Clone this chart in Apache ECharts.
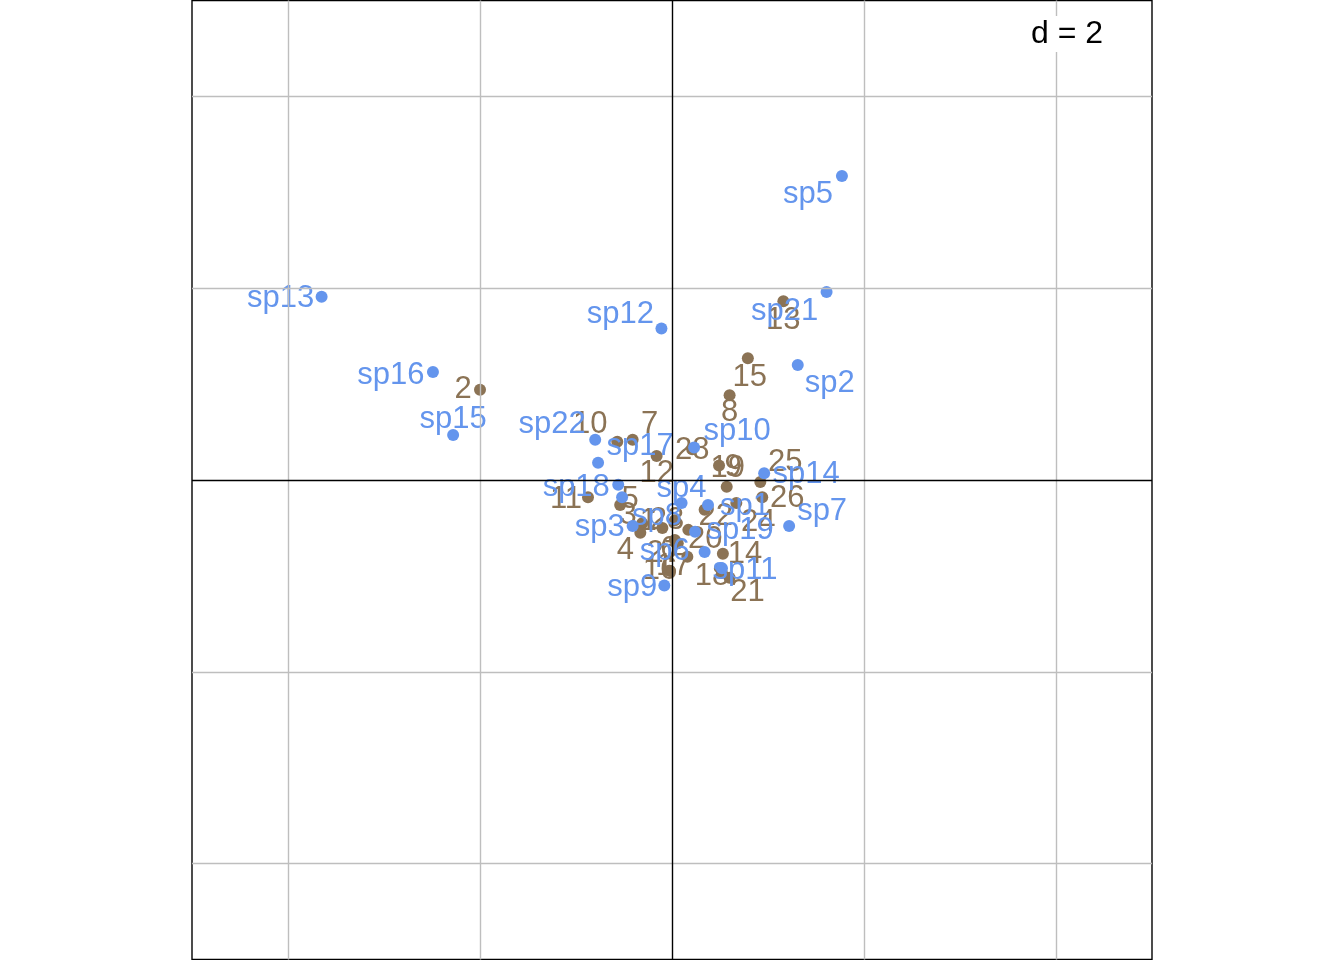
<!DOCTYPE html>
<html>
<head>
<meta charset="utf-8">
<script src="https://cdn.jsdelivr.net/npm/echarts@6/dist/echarts.min.js"></script>
<style>
  html, body { margin: 0; padding: 0; background: #fff; }
  #chart { width: 1344px; height: 960px; }
</style>
</head>
<body>
<div id="chart"></div>
<script>
// sites (rows)
const siteNames = ['1', '2', '3', '4', '5', '6', '7', '8', '9', '10', '11', '12', '13', '14',
  '15', '16', '17', '18', '19', '20', '21', '22', '23', '24', '25', '26', '27', '28'];
const siteX = [-0.10, -2.00, -0.31, -0.33, -0.54, 0.03, -0.41, 0.60, 0.49, -0.57, -0.875, -0.16, 1.16, 0.53,
  0.79, -0.02, 0.16, 0.52, 0.57, 0.17, 0.60, 0.34, 0.03, 0.67, 0.92, 0.94, 0.06, 0.21];
const siteY = [-0.50, 0.94, -0.45, -0.55, -0.26, -0.625, 0.42, 0.885, 0.15, 0.40, -0.18, 0.25, 1.865, -0.77,
  1.27, -0.95, -0.80, -0.97, -0.07, -0.52, -1.02, -0.31, -0.42, -0.24, -0.02, -0.18, -0.66, 0.32];

// species (columns)
const spNames = ['sp1', 'sp2', 'sp3', 'sp4', 'sp5', 'sp6', 'sp7', 'sp8', 'sp9', 'sp10', 'sp11',
  'sp12', 'sp13', 'sp14', 'sp15', 'sp16', 'sp17', 'sp18', 'sp19', 'sp21', 'sp22'];
const spX = [0.375, 1.31, -0.41, 0.10, 1.77, 0.34, 1.22, -0.52, -0.08, 0.23, 0.52,
  -0.11, -3.65, 0.96, -2.28, -2.49, -0.77, -0.56, 0.24, 1.61, -0.80];
const spY = [-0.26, 1.20, -0.48, -0.24, 3.17, -0.75, -0.48, -0.18, -1.10, 0.34, -0.92,
  1.58, 1.91, 0.07, 0.47, 1.125, 0.18, -0.05, -0.54, 1.96, 0.42];

// grid lines, d = 2
const gridTicks = [-4, -2, 2, 4];

// label offsets in pixels (style only)
const siteLabelOffset = [[-14, -6], [-17, 0], [-14, -8], [-15, 18], [10, -5], [-6, 10], [17, -15], [0, 17],
  [14, 2], [-27, -17], [-22, 2], [0, 17], [0, 19], [22, 1], [2, 19], [-10, -1], [-14, 10], [-10, 3],
  [1, -18], [17, 10], [18, 15], [11, 7], [-8, 0], [22, 19], [25, -19], [25, 1], [-14, 10], [0, 1]];
const spLabelOffset = [[37, 2], [32, 19], [-33, 1], [0, -15], [-34, 18], [-40, 0], [33, -15], [35, 19],
  [-32, 2], [43, -16], [23, 2], [-41, -14], [-41, 2], [42, 1], [0, -15], [-42, 3], [42, -16],
  [-42, 3], [45, -1], [-42, 19], [-43, -15]];

const brown = '#8B7355';
const blue = '#6495ED';

let myChart = echarts.init(document.getElementById('chart'));

let siteData = siteNames.map((n, i) => ({
  name: n,
  value: [siteX[i], siteY[i]],
  label: { offset: siteLabelOffset[i] }
}));
let spData = spNames.map((n, i) => ({
  name: n,
  value: [spX[i], spY[i]],
  label: { offset: spLabelOffset[i] }
}));

let lineData = [];
gridTicks.forEach(t => {
  lineData.push({ xAxis: t, lineStyle: { color: '#BEBEBE', width: 1.4 } });
  lineData.push({ yAxis: t, lineStyle: { color: '#BEBEBE', width: 1.4 } });
});
lineData.push({ xAxis: 0, lineStyle: { color: '#000', width: 1.4 } });
lineData.push({ yAxis: 0, lineStyle: { color: '#000', width: 1.4 } });

let options = {
  animation: false,
  backgroundColor: '#fff',
  grid: {
    left: 192, top: 0.5, width: 960, height: 959,
    show: true, borderColor: '#000', borderWidth: 1.4, backgroundColor: 'transparent'
  },
  xAxis: {
    type: 'value', min: -5, max: 5,
    axisLine: { show: false }, axisTick: { show: false },
    axisLabel: { show: false }, splitLine: { show: false }
  },
  yAxis: {
    type: 'value', min: -5, max: 5,
    axisLine: { show: false }, axisTick: { show: false },
    axisLabel: { show: false }, splitLine: { show: false }
  },
  series: [
    {
      // grid lines
      type: 'line',
      data: [],
      z: 1,
      silent: true,
      markLine: {
        silent: true,
        symbol: 'none',
        label: { show: false },
        lineStyle: { type: 'solid' },
        data: lineData
      }
    },
    {
      name: 'sites',
      type: 'scatter',
      data: siteData,
      z: 3,
      symbolSize: 12,
      itemStyle: { color: brown, opacity: 1 },
      label: {
        show: true,
        position: 'inside',
        formatter: '{b}',
        color: brown,
        fontSize: 31,
        fontFamily: 'Liberation Sans',
        align: 'center',
        verticalAlign: 'middle'
      }
    },
    {
      name: 'species',
      type: 'scatter',
      data: spData,
      z: 4,
      symbolSize: 12,
      itemStyle: { color: blue, opacity: 1 },
      label: {
        show: true,
        position: 'inside',
        formatter: '{b}',
        color: blue,
        fontSize: 31,
        fontFamily: 'Liberation Sans',
        align: 'center',
        verticalAlign: 'middle'
      }
    }
  ],
  graphic: [
    {
      type: 'text',
      left: 1028,
      top: 16,
      z: 10,
      style: {
        text: 'd = 2',
        fill: '#000',
        font: '32px "Liberation Sans"',
        backgroundColor: '#fff',
        padding: [2, 3]
      }
    }
  ]
};
myChart.setOption(options);
</script>
</body>
</html>
